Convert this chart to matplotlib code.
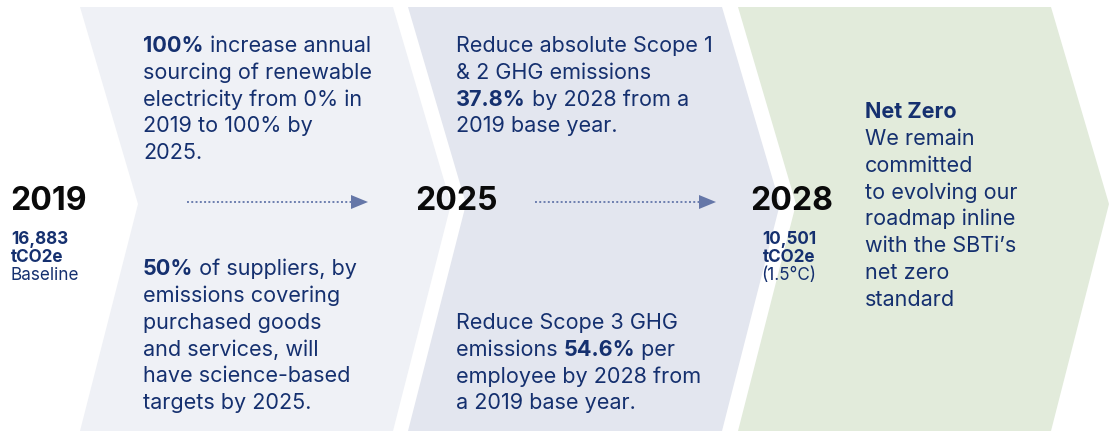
import matplotlib
matplotlib.use("Agg")
import matplotlib.pyplot as plt
from matplotlib.patches import Polygon

FONT = "Inter"
NAVY = "#15306f"
W, H = 1117, 432

# ---- data ----
years = ["2019", "2025", "2028"]
year_x = [10, 415, 750]
emission_values = ["16,883", None, "10,501"]
emission_unit = "tCO2e"
year_notes = ["Baseline", None, "(1.5°C)"]

stage_colors = ["#eff1f6", "#e3e6ef", "#e2ebdb"]
# chevron outline: left x, right x
stage_left = [80, 408, 738]
stage_right = [393, 722, 1051]

block1_top = [[("100%", True), (" increase annual", False)],
              [("sourcing of renewable", False)],
              [("electricity from 0% in", False)],
              [("2019 to 100% by", False)],
              [("2025.", False)]]
block1_bottom = [[("50%", True), (" of suppliers, by", False)],
                 [("emissions covering", False)],
                 [("purchased goods", False)],
                 [("and services, will", False)],
                 [("have science-based", False)],
                 [("targets by 2025.", False)]]
block2_top = [[("Reduce absolute Scope 1", False)],
              [("& 2 GHG emissions", False)],
              [("37.8%", True), (" by 2028 from a", False)],
              [("2019 base year.", False)]]
block2_bottom = [[("Reduce Scope 3 GHG", False)],
                 [("emissions ", False), ("54.6%", True), (" per", False)],
                 [("employee by 2028 from", False)],
                 [("a 2019 base year.", False)]]
block3 = [[("Net Zero", True)],
          [("We remain", False)],
          [("committed", False)],
          [("to evolving our", False)],
          [("roadmap inline", False)],
          [("with the SBTi\u2019s", False)],
          [("net zero", False)],
          [("standard", False)]]

fig = plt.figure(figsize=(W / 100, H / 100), dpi=100)
ax = fig.add_axes([0, 0, 1, 1])
ax.set_xlim(0, W)
ax.set_ylim(H, 0)
ax.axis("off")

top, bot, mid, depth = 7, 431, 204, 58
for c, l, r in zip(stage_colors, stage_left, stage_right):
    pts = [(l, top), (r, top), (r + depth, mid), (r, bot), (l, bot), (l + depth, mid)]
    ax.add_patch(Polygon(pts, closed=True, fc=c, ec="none"))

fig.canvas.draw()
renderer = fig.canvas.get_renderer()


def rich_line(x, y, segs, size):
    cx = x
    for txt, bold in segs:
        t = ax.text(cx, y, txt, fontsize=size, family=FONT, color=NAVY,
                    fontweight="bold" if bold else "normal", va="center", ha="left")
        bb = t.get_window_extent(renderer)
        cx += bb.width
    return cx


def block(x, y0, lines, step=26.8, size=15.55):
    for i, segs in enumerate(lines):
        rich_line(x, y0 + i * step, segs, size)


block(143, 46, block1_top)
block(143, 269, block1_bottom)
block(456, 46, block2_top)
block(456, 323, block2_bottom)
block(865, 112, block3)

for i, (yr, x) in enumerate(zip(years, year_x)):
    ax.text(x, 201, yr, fontsize=23, family=FONT, fontweight="bold", color="#0a0a0a",
            va="center", ha="left")
    if emission_values[i]:
        cxp = x + 39 if i == 2 else x + 1
        ha = "center" if i == 2 else "left"
        ax.text(cxp, 240, emission_values[i], fontsize=12.3, family=FONT, fontweight="bold",
                color=NAVY, va="center", ha=ha)
        ax.text(cxp, 257, emission_unit, fontsize=12.3, family=FONT, fontweight="bold",
                color=NAVY, va="center", ha=ha)
        ax.text(cxp, 276, year_notes[i], fontsize=12.3, family=FONT,
                color=NAVY, va="center", ha=ha)

# dotted connector arrows
for x0, x1 in [(187, 368), (535, 716)]:
    ax.plot([x0, x1 - 16], [202, 202], linestyle=(0, (1, 1.2)), color="#6c7eaf", lw=1.4)
    ax.add_patch(Polygon([(x1 - 17, 195), (x1, 202), (x1 - 17, 209)], closed=True,
                         fc="#6577a8", ec="none"))

fig.savefig("out.png", dpi=100)
